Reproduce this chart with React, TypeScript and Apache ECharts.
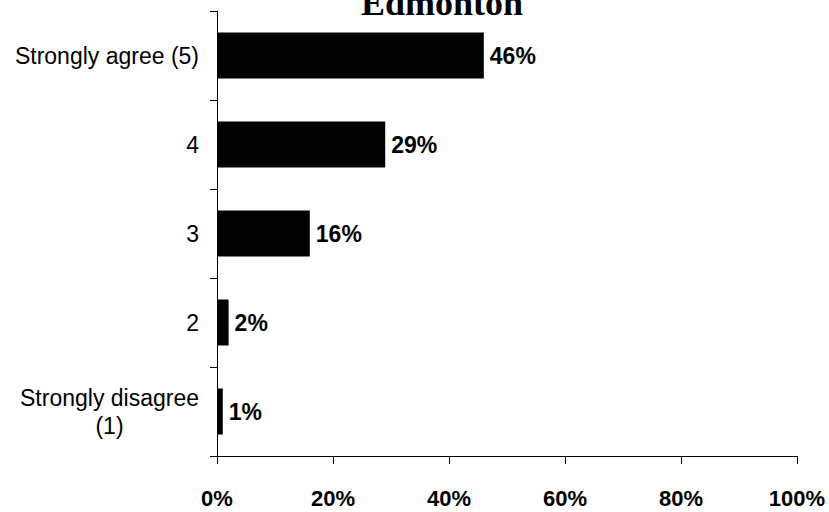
import React, { useEffect, useRef } from "react";
import * as echarts from "echarts";

// Survey responses, top to bottom
const categories: string[] = ["Strongly agree (5)", "4", "3", "2", "Strongly disagree\n(1)"];
const values: number[] = [46, 29, 16, 2, 1];
const xMin = 0;
const xMax = 100;
const xStep = 20;
const titleText = "Edmonton";

export default function App() {
  const ref = useRef<HTMLDivElement>(null);

  useEffect(() => {
    if (!ref.current) return;
    const chart = echarts.init(ref.current, null, { renderer: "svg" });
    chart.setOption({
      animation: false,
      backgroundColor: "#ffffff",
      graphic: [
        {
          type: "text",
          x: 442,
          y: 3,
          style: {
            text: titleText,
            fontFamily: "Liberation Serif",
            fontWeight: "bold",
            fontSize: 36,
            fill: "#000",
            align: "center",
            verticalAlign: "middle",
          },
          z: 10,
        },
      ],
      grid: { left: 217, right: 32, top: 11, bottom: 56, containLabel: false },
      xAxis: {
        type: "value",
        min: xMin,
        max: xMax,
        interval: xStep,
        axisLine: { show: true, lineStyle: { color: "#000", width: 1 } },
        axisTick: { show: true, length: 8, lineStyle: { color: "#000" } },
        splitLine: { show: false },
        axisLabel: {
          formatter: (v: number) => `${v}%`,
          fontFamily: "Liberation Sans",
          fontWeight: "bold",
          fontSize: 22,
          color: "#000",
          margin: 31,
        },
      },
      yAxis: {
        type: "category",
        inverse: true,
        data: categories,
        axisLine: { show: true, lineStyle: { color: "#000", width: 1 } },
        axisTick: { show: true, length: 7, lineStyle: { color: "#000" } },
        axisLabel: {
          margin: 18,
          align: "right",
          fontFamily: "Liberation Sans",
          fontSize: 23,
          color: "#000",
          formatter: (v: string) =>
            v.includes("\n")
              ? v
                  .split("\n")
                  .map((line) => `{c|${line}}`)
                  .join("\n")
              : v,
          rich: {
            c: {
              align: "center",
              fontFamily: "Liberation Sans",
              fontSize: 23,
              color: "#000",
              lineHeight: 28,
            },
          },
        },
      },
      series: [
        {
          type: "bar",
          data: values,
          barWidth: 46,
          itemStyle: { color: "#000" },
          label: {
            show: true,
            position: "right",
            distance: 6,
            formatter: (p: any) => `${p.value}%`,
            fontFamily: "Liberation Sans",
            fontWeight: "bold",
            fontSize: 23,
            color: "#000",
          },
        },
      ],
    });
    return () => chart.dispose();
  }, []);

  return (
    <div
      ref={ref}
      style={{ position: "fixed", left: 0, top: 0, width: 829, height: 512 }}
    />
  );
}
